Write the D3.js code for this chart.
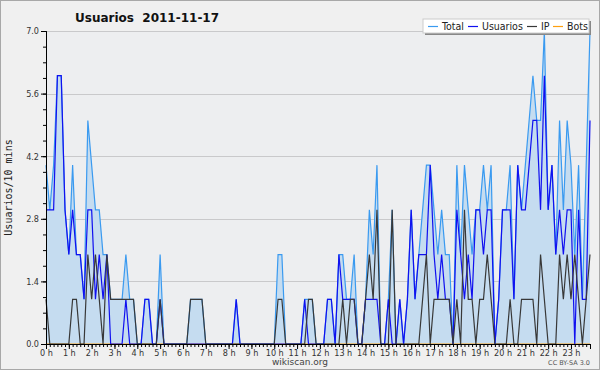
<!DOCTYPE html>
<html>
<head>
<meta charset="utf-8">
<title>Usuarios 2011-11-17</title>
<script src="https://cdn.jsdelivr.net/npm/d3@7"></script>
<style>
  body{ margin:0; background:#f0f0f0; }
  svg{ display:block; font-family:"DejaVu Sans", sans-serif; }
</style>
</head>
<body>
<svg id="chart" width="600" height="370"></svg>
<script>
// 10-minute buckets, one row per hour (6 values)
var total = [
  4,3,4,6,6,3, 2,4,2,2,1,5, 4,3,3,2,2,1, 1,1,1,2,1,1,
  0,0,1,1,0,0, 2,0,0,0,0,0, 0,0,1,1,1,1, 0,0,0,0,0,0,
  0,0,1,0,0,0, 0,0,0,0,0,0, 0,2,2,0,0,0, 0,0,1,1,1,0,
  0,0,1,1,0,2, 2,1,1,2,0,0, 1,3,2,4,0,0, 1,3,0,1,0,1,
  3,1,2,3,4,4, 3,2,3,2,2,0, 4,2,4,3,2,3, 3,4,3,4,0,1,
  3,3,4,1,4,3, 4,5,6,5,5,7, 3,4,2,5,3,5, 4,2,4,1,4,7
]
var usuarios = [
  3,3,3,6,6,3, 2,3,2,2,1,3, 3,1,2,1,2,0, 0,0,0,1,0,0,
  0,0,1,1,0,0, 1,0,0,0,0,0, 0,0,0,0,0,0, 0,0,0,0,0,0,
  0,0,1,0,0,0, 0,0,0,0,0,0, 0,0,0,0,0,0, 0,0,1,0,0,0,
  0,0,1,1,0,2, 1,1,1,1,0,0, 1,1,1,1,0,0, 1,0,0,1,0,1,
  3,1,2,2,2,4, 2,1,2,1,1,0, 3,2,1,2,1,3, 3,2,3,3,0,1,
  3,3,3,1,4,3, 3,4,5,5,3,6, 3,4,2,3,2,3, 3,0,3,1,1,5
]
var ip = [
  1,0,0,0,0,0, 0,1,1,0,0,2, 1,2,1,0,2,1, 1,1,1,1,1,1,
  0,0,0,0,0,0, 1,0,0,0,0,0, 0,0,1,1,1,1, 0,0,0,0,0,0,
  0,0,0,0,0,0, 0,0,0,0,0,0, 0,1,1,0,0,0, 0,0,0,1,1,0,
  0,0,0,0,0,0, 1,0,1,1,0,0, 1,2,1,3,0,0, 0,3,0,0,0,0,
  0,0,0,1,2,0, 1,1,1,1,1,0, 1,0,3,1,1,0, 1,1,2,1,0,0,
  0,0,1,0,0,1, 1,1,1,0,2,1, 0,0,0,2,1,2, 1,2,1,0,1,2
]
var bots = d3.range(144).map(function(){ return 0 })
var hours = d3.range(24)
var yTicks = [0, 1.4, 2.8, 4.2, 5.6, 7.0]

var svg = d3.select('#chart')
var W = 600, H = 370
var pLeft = 46, pRight = 590, pTop = 31, pBottom = 344

svg.append('rect').attr('x', 0.5).attr('y', 0.5).attr('width', W - 1).attr('height', H - 1)
  .attr('fill', '#f0f0f0').attr('stroke', '#a8a8a8')

var x = d3.scaleLinear().domain([0, 143]).range([pLeft, pRight])
var y = d3.scaleLinear().domain([0, 7]).range([pBottom, pTop])

svg.append('rect').attr('x', pLeft).attr('y', pTop).attr('width', pRight - pLeft).attr('height', pBottom - pTop)
  .attr('fill', '#edeef0')

// grid
svg.append('g').selectAll('line').data(yTicks.slice(1)).enter().append('line')
  .attr('x1', pLeft).attr('x2', pRight)
  .attr('y1', function(d){ return Math.round(y(d)) + 0.5 })
  .attr('y2', function(d){ return Math.round(y(d)) + 0.5 })
  .attr('stroke', '#c9c9cb').attr('stroke-width', 1)

function line(data){
  return d3.line().x(function(d, i){ return x(i) }).y(function(d){ return y(d) })(data)
}

svg.append('path')
  .attr('d', d3.area().x(function(d, i){ return x(i) }).y0(y(0)).y1(function(d){ return y(d) })(total))
  .attr('fill', '#c5dcf0')

svg.append('path').attr('d', line(bots)).attr('fill', 'none').attr('stroke', '#ffa010').attr('stroke-width', 1)
svg.append('path').attr('d', line(total)).attr('fill', 'none').attr('stroke', '#3a9af0').attr('stroke-width', 1.2)
svg.append('path').attr('d', line(usuarios)).attr('fill', 'none').attr('stroke', '#1010f0').attr('stroke-width', 1.2)
svg.append('path').attr('d', line(ip)).attr('fill', 'none').attr('stroke', '#383838').attr('stroke-width', 1.2)

// y axis
var ya = svg.append('g').attr('transform', 'translate(' + pLeft + ',0)')
ya.append('g').call(d3.axisLeft(y).tickValues(d3.range(0, 21).map(function(k){ return k * 0.35 }))
    .tickSize(3).tickFormat(''))
ya.append('g').call(d3.axisLeft(y).tickValues(yTicks).tickSize(5).tickFormat(d3.format('.1f')))
ya.selectAll('path').attr('stroke', '#000')
ya.selectAll('text').attr('font-size', 9).attr('fill', '#333').attr('font-family', '"DejaVu Sans Condensed", sans-serif').attr('dx', 1)

// x axis
var xa = svg.append('g').attr('transform', 'translate(0,' + pBottom + ')')
xa.append('g').call(d3.axisBottom(x).tickValues(d3.range(0, 144)).tickSize(3).tickFormat(''))
xa.append('g').call(d3.axisBottom(x).tickValues(hours.map(function(h){ return h * 6 })).tickSize(5)
  .tickFormat(function(d){ return (d / 6) + ' h' }))
xa.selectAll('path').attr('stroke', '#000')
xa.selectAll('text').attr('font-size', 9).attr('fill', '#333').attr('font-family', '"DejaVu Sans Condensed", sans-serif').attr('dy', '0.45em')

// titles
svg.append('text').attr('x', 75).attr('y', 22).attr('font-size', 12).attr('font-weight', 'bold')
  .attr('fill', '#111').style('white-space', 'pre').text('Usuarios  2011-11-17')
svg.append('text').attr('transform', 'translate(12,' + ((pTop + pBottom) / 2) + ') rotate(-90)')
  .attr('text-anchor', 'middle').attr('font-size', 10).attr('font-family', '"DejaVu Sans Mono", monospace')
  .attr('fill', '#222').text('Usuarios/10 mins')
svg.append('text').attr('x', 300).attr('y', 365).attr('text-anchor', 'middle').attr('font-size', 9)
  .attr('fill', '#444').text('wikiscan.org')
svg.append('text').attr('x', 590).attr('y', 365).attr('text-anchor', 'end').attr('font-size', 6.5)
  .attr('fill', '#555').text('CC BY-SA 3.0')

// legend
var lg = svg.append('g')
lg.append('rect').attr('x', 425).attr('y', 21).attr('width', 166).attr('height', 14).attr('fill', '#888')
lg.append('rect').attr('x', 423).attr('y', 19).attr('width', 166).attr('height', 14).attr('fill', '#fff')
  .attr('stroke', '#ccc')
var items = [['Total', '#3a9af0', 428], ['Usuarios', '#1010f0', 468], ['IP', '#383838', 527], ['Bots', '#ffa010', 553]]
items.forEach(function(it){
  lg.append('line').attr('x1', it[2]).attr('x2', it[2] + 10).attr('y1', 26.5).attr('y2', 26.5)
    .attr('stroke', it[1]).attr('stroke-width', 1.2)
  lg.append('text').attr('x', it[2] + 14).attr('y', 30).attr('font-size', 10.5)
    .attr('font-family', '"DejaVu Sans Condensed", sans-serif').attr('fill', '#222').text(it[0])
})
</script>
</body>
</html>
